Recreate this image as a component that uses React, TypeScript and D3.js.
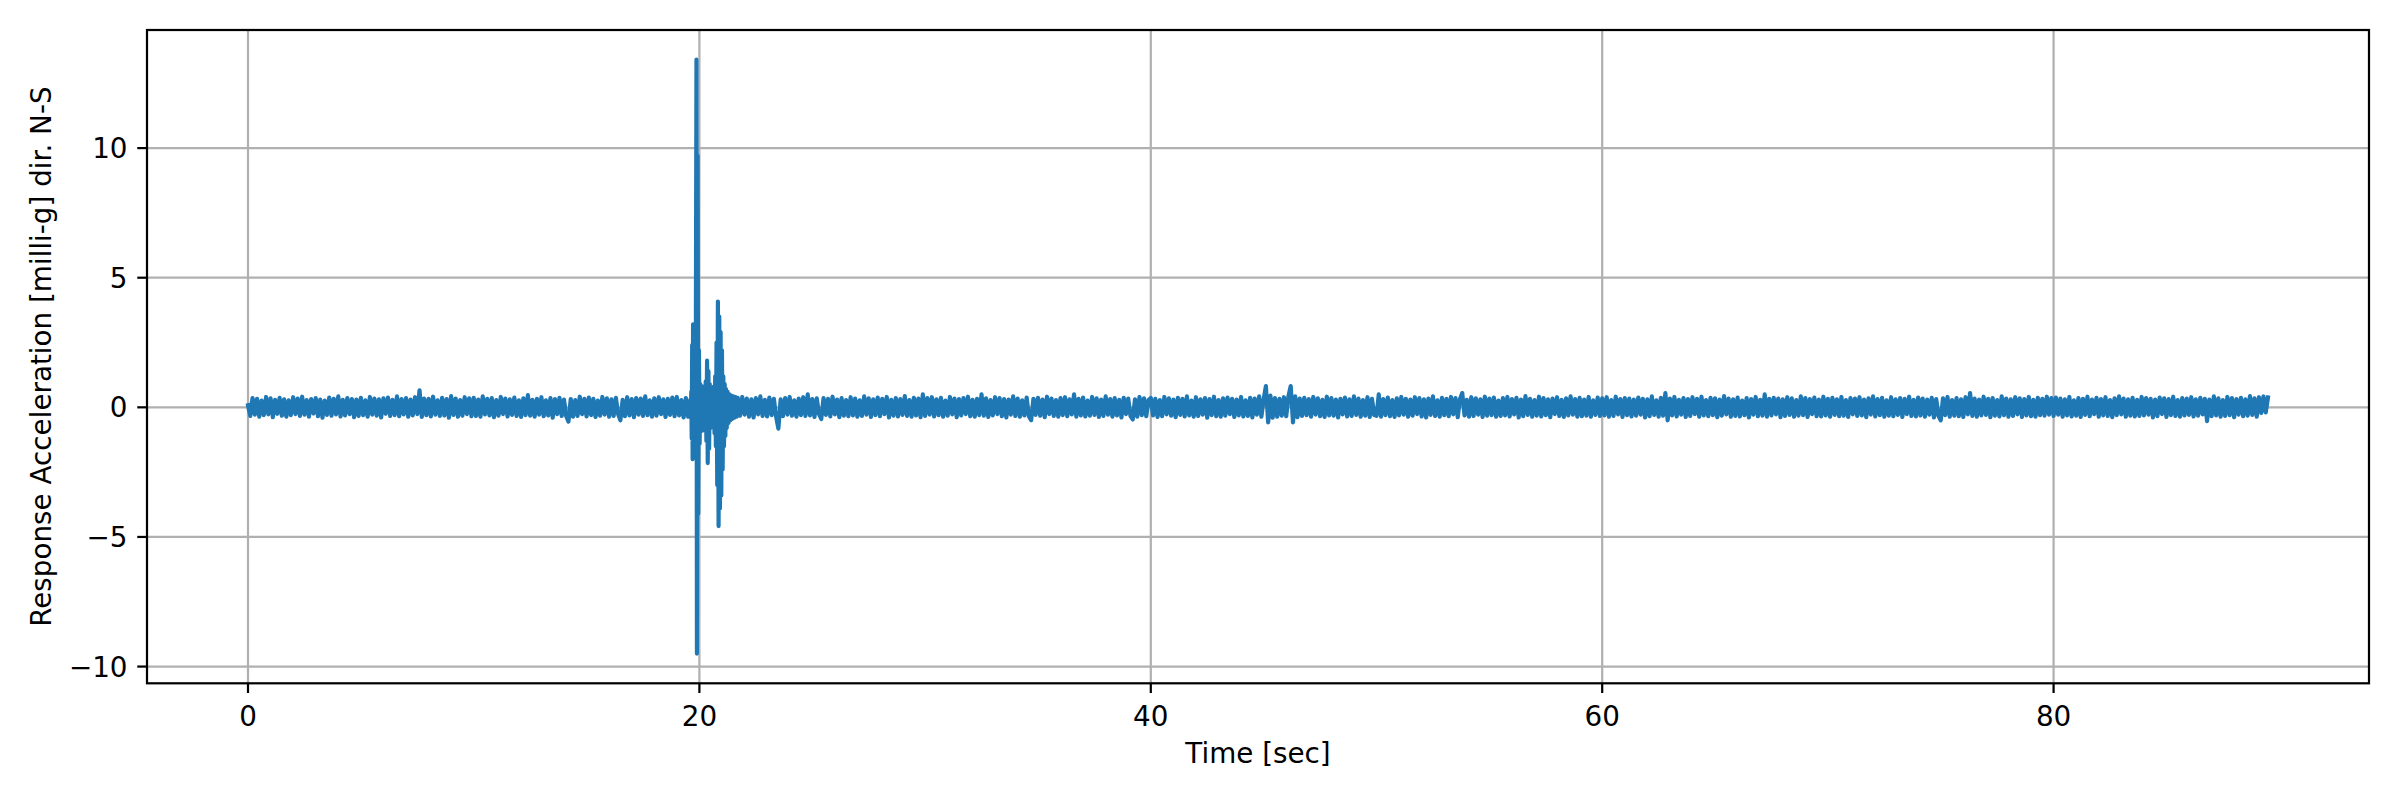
import React from 'react';
import * as d3 from 'd3';

// ---- data (milli-g), sampled every 0.1 s except the burst ----
const STEP = 0.1;

const noise0Start = 0.0;
const noise0 = [
  .08,-.33,.36,-.28,.33,-.36,.26,-.3,.4,-.27,
  .35,-.38,.29,-.25,.37,-.32,.31,-.36,.27,-.3,
  .39,-.26,.34,-.33,.41,-.28,.28,-.36,.32,-.24,
  .36,-.34,.3,-.4,.26,-.29,.38,-.32,.33,-.27,
  .42,-.35,.29,-.31,.36,-.26,.32,-.38,.3,-.33,
  .37,-.3,.27,-.36,.4,-.28,.34,-.32,.31,-.39,
  .35,-.25,.38,-.33,.29,-.3,.42,-.34,.32,-.27,
  .36,-.36,.3,-.31,.39,-.26,.66,-.37,.34,-.3,
  .33,-.35,.41,-.28,.27,-.33,.37,-.31,.32,-.4,
  .43,-.29,.34,-.36,.28,-.32,.39,-.26,.35,-.34,
];

const noise1Start = 10.0;
const noise1 = [
  .37,-.33,.3,-.36,.42,-.27,.33,-.31,.36,-.38,
  .28,-.32,.4,-.26,.34,-.35,.31,-.29,.38,-.33,
  .27,-.37,.35,-.3,.47,-.32,.29,-.36,.33,-.28,
  .39,-.34,.27,-.31,.36,-.4,.32,-.26,.37,-.33,
  .3,-.34,-.55,.32,-.36,.28,-.33,.41,-.26,.33,
  -.35,.38,-.3,.33,-.37,.26,-.32,.4,-.28,.35,
  -.36,.31,-.33,.37,-.27,-.5,.29,-.34,.39,-.31,
  .32,-.38,.36,-.28,.34,-.33,.42,-.3,.27,-.36,
  .35,-.32,.39,-.26,.31,-.37,.33,-.29,.38,-.34,
  .4,-.31,.28,-.39,.36,-.36,
];

const burstTimes = [
  19.60,19.62,19.64,19.66,19.68,19.70,19.72,19.74,19.76,19.78,
  19.80,19.82,19.84,19.87,19.89,19.92,19.95,19.98,20.01,20.04,
  20.07,20.10,20.13,20.16,20.19,20.22,20.25,20.28,20.31,20.34,
  20.37,20.40,20.43,20.46,20.49,20.52,20.55,20.58,20.61,20.64,
  20.67,20.70,20.73,20.76,20.79,20.82,20.85,20.88,20.91,20.94,
  20.97,21.00,21.03,21.06,21.09,21.12,21.15,21.18,21.21,21.25,
  21.29,21.33,21.37,21.41,21.45,21.50,21.55,21.60,21.65,
];
const burstValues = [
  0.3,-0.4,0.6,-1.2,2.4,-2.0,3.2,-1.6,1.8,-1.0,
  0.9,-0.6,1.5,13.41,-9.5,9.7,-4.1,2.2,-1.4,0.9,
  -0.8,0.7,-0.9,0.8,-0.6,0.5,-0.7,1.0,-1.3,1.8,
  -2.15,1.4,-1.6,0.9,-0.8,0.7,-0.6,0.5,-0.7,0.8,
  -1.0,1.2,-1.5,2.5,-3.0,4.08,-4.58,3.5,-3.9,2.9,
  -3.4,2.2,-2.4,1.2,-1.5,0.9,-1.1,0.7,-0.8,0.6,
  -0.6,0.5,-0.5,0.45,-0.45,0.42,-0.4,0.4,-0.36,
];

const noise2Start = 21.7;
const noise2 = [
  .37,-.32,.4,-.28,.34,-.36,.31,-.39,.36,-.27,
  .42,-.33,.29,-.35,.38,-.3,.33,-.37,-.82,.31,
  -.34,.36,-.28,.4,-.32,.27,-.36,.34,-.3,.39,
  -.33,.5,-.31,.32,-.37,.35,-.26,-.45,.36,-.29,
  .33,-.35,.41,-.27,.3,-.38,.36,-.32,.28,-.34,
  .39,-.31,.34,-.36,.27,-.33,.42,-.28,.35,-.37,
  .31,-.3,.38,-.34,.33,-.26,.4,-.39,.29,-.32,
  .36,-.35,.32,-.29,.43,-.33,.28,-.36,.37,-.31,
  .34,-.38,.5,
];

const noise3Start = 30.0;
const noise3 = [
  -.33,.36,-.28,.39,-.35,.31,-.3,.37,-.36,.26,
  -.32,.4,-.27,.34,-.38,.32,-.31,.36,-.26,.41,
  -.34,.29,-.36,.33,-.3,.5,-.32,.35,-.37,.28,
  -.31,.39,-.26,.36,-.34,.32,-.39,.3,-.28,.42,
  -.33,.34,-.36,.27,-.31,.38,-.35,-.5,.33,-.29,
  .37,-.32,.3,-.38,.41,-.26,.34,-.33,.28,-.36,
  .36,-.3,.39,-.34,.31,-.27,.5,-.36,.33,-.31,
  .38,-.35,.26,-.32,.4,-.29,.35,-.37,.3,-.33,
  .42,-.28,.32,-.36,.36,-.31,.29,-.39,.37,-.26,
  .34,-.33,-.47,.31,-.36,.4,-.3,.35,-.34,.28,
];

const noise4Start = 40.0;
const noise4 = [
  .36,-.31,.33,-.37,.28,-.34,.4,-.27,.35,-.32,
  .3,-.38,.37,-.29,.33,-.35,.42,-.31,.26,-.36,
  .39,-.33,.31,-.28,.36,-.4,.32,-.3,.41,-.34,
  .28,-.36,.35,-.32,.38,-.26,.33,-.37,.3,-.31,
  .4,-.35,.27,-.33,.37,-.39,.34,-.28,.42,-.36,
  .31,.82,-.58,.45,-.4,.36,-.36,.33,-.32,.39,
  -.34,.43,.82,-.58,.42,-.38,.34,-.33,.37,-.3,
  .32,-.36,.4,-.28,.35,-.34,.29,-.37,.41,-.31,
  .36,-.32,.3,-.39,.33,-.27,.38,-.35,.31,-.33,
  .42,-.29,.34,-.36,.28,-.32,.39,-.37,.33,-.3,
];

const noise5Start = 50.0;
const noise5 = [
  -.33,.5,-.36,.32,-.3,.38,-.34,.28,-.37,.35,
  -.31,.4,-.28,.33,-.36,.3,-.32,.39,-.26,.36,
  -.35,.31,-.39,.34,-.29,.42,-.33,.27,-.36,.37,
  -.3,.33,-.34,.4,-.27,.36,-.38,.32,.55,-.31,
  .29,-.36,.39,-.33,.35,-.28,.31,-.37,.41,-.32,
  .34,-.3,.38,-.36,.26,-.33,.36,-.31,.4,-.35,
  .32,-.27,.37,-.39,.3,-.34,.43,-.29,.33,-.36,
  .28,-.32,.41,-.35,.36,-.3,.31,-.38,.34,-.26,
  .39,-.33,.29,-.37,.35,-.31,.42,-.28,.32,-.36,
  .37,-.34,.3,-.32,.4,-.36,.27,-.29,.38,-.33,
];

const noise6Start = 60.0;
const noise6 = [
  .35,-.31,.39,-.36,.28,-.33,.41,-.27,.32,-.37,
  .36,-.3,.34,-.35,.3,-.32,.38,-.28,.33,-.39,
  .31,-.34,.42,-.29,.27,-.36,.37,-.32,.55,-.5,
  .34,-.31,.4,-.35,.29,-.28,.36,-.37,.32,-.33,
  .39,-.26,.33,-.36,.41,-.31,.28,-.34,.37,-.3,
  .35,-.38,.3,-.32,.43,-.27,.34,-.36,.31,-.33,
  .38,-.35,.26,-.3,.36,-.39,.32,-.28,.4,-.34,
  .29,-.32,.5,-.36,.33,-.31,.37,-.27,.34,-.38,
  .31,-.33,.39,-.29,.35,-.36,.28,-.32,.42,-.3,
  .36,-.37,.32,-.26,.38,-.34,.3,-.35,.41,-.31,
];

const noise7Start = 70.0;
const noise7 = [
  .33,-.36,.37,-.29,.31,-.34,.4,-.32,.28,-.37,
  .36,-.27,.34,-.33,.39,-.31,.3,-.38,.35,-.28,
  .42,-.35,.32,-.3,.37,-.36,.27,-.32,.39,-.34,
  .31,-.29,.36,-.37,.33,-.26,.41,-.33,.29,-.35,
  .38,-.31,.34,-.36,.3,-.28,.37,-.39,.32,-.33,
  -.5,.35,-.3,.4,-.36,.28,-.32,.36,-.34,.31,
  -.37,.39,-.27,.55,-.33,.34,-.36,.3,-.31,.41,
  -.29,.33,-.38,.36,-.32,.28,-.35,.42,-.3,.34,
  -.36,.31,-.33,.39,-.27,.35,-.37,.32,-.31,.4,
  -.34,.29,-.36,.37,-.3,.33,-.32,.41,-.28,.36,
];

const noise8Start = 80.0;
const noise8 = [
  -.33,.38,-.28,.34,-.36,.31,-.31,.4,-.35,.27,
  -.32,.36,-.37,.33,-.29,.41,-.34,.3,-.26,.37,
  -.36,.32,-.31,.39,-.33,.28,-.38,.35,-.3,.42,
  -.27,.34,-.36,.31,-.32,.37,-.35,.29,-.33,.4,
  -.31,.36,-.28,.33,-.39,.3,-.34,.38,-.26,.35,
  -.37,.32,-.3,.41,-.33,.28,-.36,.36,-.31,.34,
  -.29,.39,-.35,.31,-.32,.37,-.27,.33,-.53,.3,
  -.34,.42,-.31,.35,-.36,.28,-.33,.4,-.3,.36,
  -.38,.32,-.28,.37,-.34,.31,-.32,.43,-.29,.35,
  -.36,.39,-.22,.42,-.2,.38,
];

const xTicks = [0, 20, 40, 60, 80];
const yTicks = [-10, -5, 0, 5, 10];
const xLabel = 'Time [sec]';
const yLabel = 'Response Acceleration [milli-g] dir. N-S';

// ---- build series ----
type Pt = [number, number];
const fromSeg = (start: number, vals: number[]): Pt[] =>
  vals.map((v, i) => [Math.round((start + i * STEP) * 100) / 100, v] as Pt);

const series: Pt[] = [
  ...fromSeg(noise0Start, noise0),
  ...fromSeg(noise1Start, noise1),
  ...burstTimes.map((t, i) => [t, burstValues[i]] as Pt),
  ...fromSeg(noise2Start, noise2),
  ...fromSeg(noise3Start, noise3),
  ...fromSeg(noise4Start, noise4),
  ...fromSeg(noise5Start, noise5),
  ...fromSeg(noise6Start, noise6),
  ...fromSeg(noise7Start, noise7),
  ...fromSeg(noise8Start, noise8),
];

// ---- layout ----
const W = 2400;
const H = 800;
const L = 147;
const R = 2369;
const T = 30;
const B = 683.3;
const FONT = '"DejaVu Sans", sans-serif';
const FS = 27.8;
const LW = 2.22;
const TICK = 9.72;

const pad = (ext: [number, number]): [number, number] => {
  const m = (ext[1] - ext[0]) * 0.05;
  return [ext[0] - m, ext[1] + m];
};

const fmt = (v: number) => (v < 0 ? '\u2212' + Math.abs(v) : String(v));

export default function App() {
  const xExt = d3.extent(series, (d) => d[0]) as [number, number];
  const yExt = d3.extent(series, (d) => d[1]) as [number, number];
  const x = d3.scaleLinear().domain(pad(xExt)).range([L, R]);
  const y = d3.scaleLinear().domain(pad(yExt)).range([B, T]);
  const line = d3
    .line<Pt>()
    .x((d) => x(d[0]))
    .y((d) => y(d[1]));

  return (
    <svg
      width={W}
      height={H}
      viewBox={`0 0 ${W} ${H}`}
      style={{ position: 'absolute', left: 0, top: 0, background: '#fff' }}
      fontFamily={FONT}
    >
      <rect x={0} y={0} width={W} height={H} fill="#fff" />
      <defs>
        <clipPath id="plotclip">
          <rect x={L} y={T} width={R - L} height={B - T} />
        </clipPath>
      </defs>
      {/* grid */}
      <g stroke="#b0b0b0" strokeWidth={LW}>
        {xTicks.map((t) => (
          <line key={'gx' + t} x1={x(t)} x2={x(t)} y1={T} y2={B} />
        ))}
        {yTicks.map((t) => (
          <line key={'gy' + t} x1={L} x2={R} y1={y(t)} y2={y(t)} />
        ))}
      </g>
      {/* data */}
      <path
        d={line(series) || ''}
        fill="none"
        stroke="#1f77b4"
        strokeWidth={4.17}
        strokeLinejoin="round"
        strokeLinecap="square"
        clipPath="url(#plotclip)"
      />
      {/* spines */}
      <rect x={L} y={T} width={R - L} height={B - T} fill="none" stroke="#000" strokeWidth={LW} />
      {/* x ticks */}
      <g>
        {xTicks.map((t) => (
          <g key={'xt' + t}>
            <line x1={x(t)} x2={x(t)} y1={B} y2={B + TICK} stroke="#000" strokeWidth={LW} />
            <text x={x(t)} y={B + 43} textAnchor="middle" fontSize={FS} fill="#000">
              {fmt(t)}
            </text>
          </g>
        ))}
      </g>
      {/* y ticks */}
      <g>
        {yTicks.map((t) => (
          <g key={'yt' + t}>
            <line x1={L - TICK} x2={L} y1={y(t)} y2={y(t)} stroke="#000" strokeWidth={LW} />
            <text x={L - 2 * TICK} y={y(t) + 10.1} textAnchor="end" fontSize={FS} fill="#000">
              {fmt(t)}
            </text>
          </g>
        ))}
      </g>
      <text x={(L + R) / 2} y={763} textAnchor="middle" fontSize={FS} fill="#000">
        {xLabel}
      </text>
      <text
        transform={`translate(50.5,${(T + B) / 2}) rotate(-90)`}
        textAnchor="middle"
        fontSize={FS}
        fill="#000"
      >
        {yLabel}
      </text>
    </svg>
  );
}
